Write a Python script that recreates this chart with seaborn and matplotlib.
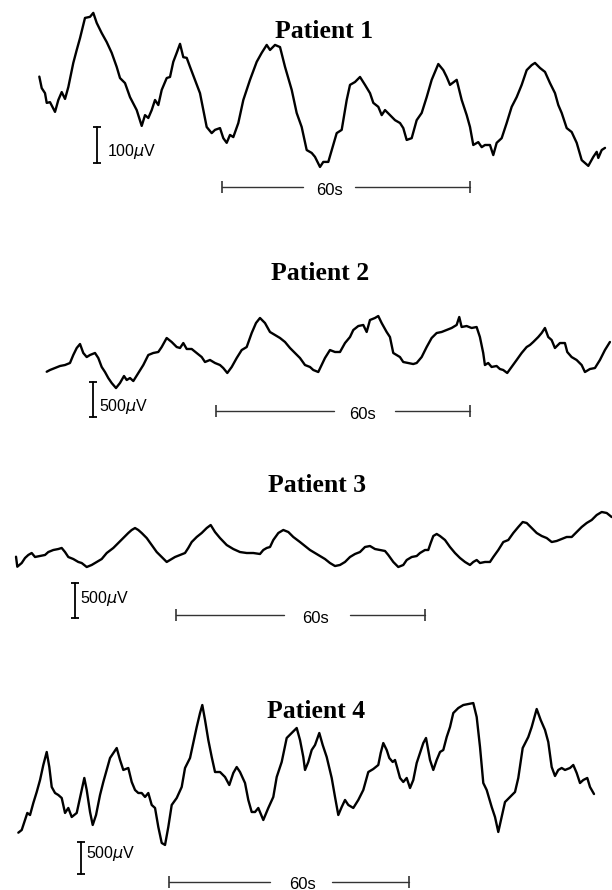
import matplotlib
matplotlib.use("Agg")
import matplotlib.pyplot as plt
import numpy as np
import pandas as pd
import seaborn as sns

# ---------------------------------------------------------------
# Slow-potential recordings: time (s) and amplitude (µV) per patient
# ---------------------------------------------------------------
t1 = [0, 0.58, 1.38, 1.79, 2.59, 3.80, 4.60, 5.42, 6.22, 7.02, 8.22, 9.05, 9.85, 11.05,
      12.26, 13.06, 13.89, 15.09, 16.30, 17.51, 18.72, 19.52, 20.73, 21.94, 23.56, 24.77,
      25.57, 26.37, 27.19, 27.99, 28.79, 29.61, 30.82, 31.62, 32.41, 33.24, 34.04, 34.83,
      35.66, 36.46, 37.66, 38.87, 39.67, 40.49, 41.70, 42.50, 43.71, 44.51, 45.33, 46.13,
      46.93, 48.14, 49.35, 50.97, 52.59, 53.80, 55.01, 55.81, 57.02, 58.23, 59.44, 61.06,
      62.26, 63.47, 64.68, 65.89, 66.69, 67.90, 68.70, 69.91, 71.94, 73.15, 74.36, 75.16,
      76.37, 77.58, 78.79, 80.00, 80.80, 82.01, 82.83, 83.63, 84.84, 86.05, 87.26, 88.05,
      88.87, 90.08, 91.29, 92.50, 93.71, 94.92, 96.52, 97.73, 98.55, 99.35, 100.97, 102.18,
      103.39, 104.19, 104.98, 106.19, 107.02, 107.81, 109.02, 109.82, 110.64, 111.85,
      113.06, 114.27, 115.48, 116.69, 117.90, 119.11, 119.91, 121.12, 122.33, 123.54,
      124.75, 125.55, 126.37, 127.58, 128.79, 130.00, 131.21, 132.81, 134.02, 134.84,
      135.23, 136.05, 136.85]
v1 = [65, 33, 19, -8, -6, -33, 0, 22, 3, 36, 103, 139, 172, 228, 231, 242, 214, 186, 161,
      131, 92, 61, 47, 8, -28, -72, -42, -50, -28, 0, -14, 28, 61, 64, 106, 131, 156, 119,
      117, 92, 56, 19, -28, -75, -92, -83, -78, -106, -119, -97, -103, -64, 0, 56, 106, 131,
      153, 139, 153, 147, 92, 28, -36, -75, -139, -147, -158, -186, -172, -172, -92, -83, 0,
      42, 50, 64, 42, 19, -8, -19, -42, -28, -42, -56, -64, -78, -111, -106, -56, -36, 8,
      56, 100, 83, 64, 42, 56, 0, -42, -75, -125, -117, -131, -125, -125, -153, -119, -106,
      -64, -19, 8, 42, 83, 97, 103, 89, 78, 47, 19, -14, -36, -78, -89, -119, -167, -183,
      -158, -144, -161, -139, -133]

t2 = [0, 0.78, 1.96, 3.14, 4.32, 5.50, 6.28, 7.09, 7.87, 8.64, 9.45, 10.23, 11.41, 12.19,
      12.99, 13.77, 14.55, 15.35, 16.37, 17.31, 18.26, 18.90, 19.68, 20.46, 21.64, 22.82,
      24.00, 25.18, 26.36, 27.16, 28.34, 29.52, 30.71, 31.49, 32.27, 33.07, 34.25, 35.43,
      36.61, 37.39, 38.57, 39.75, 40.93, 41.71, 42.66, 43.70, 44.88, 46.06, 47.24, 48.42,
      49.44, 50.38, 51.56, 52.74, 53.93, 55.11, 56.29, 57.47, 58.65, 59.83, 61.01, 62.19,
      62.97, 64.15, 64.95, 65.73, 66.91, 68.10, 69.28, 70.46, 71.64, 72.42, 73.60, 74.78,
      75.58, 76.36, 77.54, 78.32, 79.12, 80.30, 81.08, 81.86, 82.66, 83.44, 84.22, 85.40,
      86.58, 87.39, 88.57, 89.75, 90.93, 92.11, 93.29, 94.47, 95.65, 96.83, 97.45, 98.01,
      99.19, 100.37, 101.55, 102.33, 103.11, 103.51, 104.29, 105.09, 106.27, 107.05,
      107.83, 108.78, 109.82, 111.01, 112.19, 113.37, 114.15, 114.93, 116.11, 116.91,
      117.69, 118.47, 119.27, 120.05, 121.23, 122.41, 122.96, 123.99, 125.17, 126.36,
      127.14, 128.32, 129.50, 130.68, 131.86, 133.04]
v2 = [-239, -214, -186, -157, -143, -114, 0, 100, 157, 29, -29, 0, 29, -43, -171, -243,
      -329, -400, -472, -400, -300, -357, -329, -372, -257, -143, 0, 29, 43, 114, 243, 186,
      114, 100, 171, 86, 86, 29, -29, -100, -71, -114, -143, -186, -257, -171, -43, 71, 114,
      314, 457, 529, 457, 329, 286, 243, 186, 100, 29, -43, -143, -171, -214, -243, -143,
      -43, 71, 43, 43, 171, 257, 357, 414, 429, 329, 500, 529, 557, 457, 329, 257, 29, 0,
      -29, -100, -114, -129, -114, -29, 114, 243, 314, 329, 357, 386, 429, 543, 400, 414,
      386, 400, 257, 29, -143, -114, -171, -157, -200, -214, -257, -171, -71, 29, 114, 143,
      186, 257, 314, 386, 257, 214, 100, 171, 171, 43, -29, -71, -143, -243, -200, -186,
      -71, 71, 186]

t3 = [0, 0.31, 0.80, 1.37, 2.17, 2.96, 3.78, 4.58, 5.78, 6.99, 7.78, 8.99, 10.19, 11.01,
      11.81, 12.60, 13.81, 15.01, 15.83, 17.04, 18.24, 19.45, 20.65, 21.86, 23.45, 24.65,
      25.86, 27.06, 27.88, 28.68, 29.47, 30.29, 31.50, 32.70, 33.91, 35.11, 36.32, 37.12,
      38.32, 39.52, 40.73, 41.52, 42.34, 43.55, 44.75, 45.96, 46.92, 47.96, 49.16, 50.78,
      52.37, 53.98, 55.60, 57.19, 58.80, 59.60, 60.42, 61.22, 62.01, 63.22, 64.42, 65.63,
      66.83, 68.44, 69.65, 70.85, 72.06, 73.26, 74.47, 75.67, 76.88, 78.08, 79.29, 80.49,
      81.70, 82.90, 84.11, 85.31, 86.52, 87.72, 88.93, 89.72, 90.93, 92.13, 93.34, 94.16,
      95.36, 96.57, 97.36, 98.57, 99.36, 99.94, 100.57, 101.39, 102.18, 103.39, 104.59,
      105.80, 107.00, 108.21, 109.41, 110.21, 111.03, 111.82, 113.03, 114.23, 115.03,
      116.24, 117.44, 118.65, 119.85, 121.06, 122.12, 123.08, 124.29, 125.49, 126.70,
      127.90, 129.11, 130.31, 131.52, 132.72, 133.93, 135.13, 136.34, 137.54, 138.75,
      139.95, 141.16, 142.36, 143.57]
v3 = [-96, -239, -214, -186, -114, -71, -43, -100, -86, -71, -29, 0, 14, 29, -29, -100,
      -129, -171, -186, -243, -214, -171, -129, -43, 29, 100, 171, 243, 286, 314, 286, 243,
      171, 71, -29, -100, -171, -143, -100, -71, -43, 29, 114, 186, 243, 314, 357, 257, 171,
      71, 14, -29, -43, -43, -57, 0, 29, 43, 143, 243, 286, 257, 186, 114, 57, 0, -43, -86,
      -129, -186, -229, -214, -171, -100, -57, -29, 43, 57, 14, 0, -14, -71, -171, -243,
      -214, -143, -100, -86, -43, 0, 0, 100, 200, 229, 200, 143, 43, -43, -114, -171, -214,
      -171, -143, -186, -171, -171, -100, 0, 114, 143, 243, 329, 400, 386, 314, 243, 200,
      171, 114, 129, 157, 186, 186, 257, 329, 386, 429, 500, 543, 529, 471]

t4 = [0, 0.85, 1.68, 2.25, 2.93, 3.75, 4.60, 5.43, 6.25, 7.10, 7.75, 8.35, 9.18, 10.00,
      10.85, 11.68, 12.50, 13.35, 14.60, 15.85, 16.50, 17.10, 17.93, 18.60, 19.43, 20.43,
      21.25, 22.10, 22.93, 23.75, 24.60, 25.43, 26.25, 27.50, 28.35, 29.18, 30.00, 30.85,
      31.68, 32.50, 33.35, 34.18, 35.00, 35.85, 36.68, 37.50, 38.35, 39.60, 40.85, 41.68,
      42.93, 43.75, 44.60, 45.43, 46.00, 46.68, 47.50, 48.35, 49.18, 50.43, 51.68, 52.75,
      53.75, 54.60, 55.43, 56.68, 57.50, 58.35, 59.18, 60.00, 61.25, 62.50, 63.75, 64.60,
      65.85, 67.10, 68.35, 69.60, 70.43, 71.25, 71.68, 72.50, 73.35, 74.18, 75.25, 76.10,
      77.10, 78.35, 79.18, 80.00, 80.85, 81.68, 82.50, 83.75, 85.00, 86.25, 87.50, 88.75,
      90.00, 90.60, 91.25, 92.10, 92.75, 93.60, 94.18, 94.75, 95.43, 96.25, 97.10, 97.93,
      98.75, 99.60, 100.43, 101.25, 101.93, 102.93, 103.75, 104.60, 105.43, 106.25, 107.10,
      107.93, 108.75, 110.00, 111.25, 112.50, 113.75, 114.60, 115.43, 116.25, 117.10,
      118.35, 119.18, 120.00, 120.85, 121.68, 122.93, 124.18, 125.00, 126.10, 127.50,
      128.35, 129.60, 130.60, 131.68, 132.50, 133.35, 134.18, 135.00, 135.85, 136.68,
      137.93, 138.75, 139.60, 140.43, 141.25, 142.25, 142.93, 143.93]
v4 = [-667, -625, -469, -359, -391, -203, -31, 156, 391, 594, 359, 47, -47, -78, -125,
      -359, -281, -422, -359, 0, 188, 0, -344, -547, -391, -78, 125, 313, 500, 578, 656, 469,
      313, 344, 125, 0, -47, -47, -109, -47, -234, -281, -578, -828, -859, -578, -234, -125,
      47, 344, 500, 734, 984, 1203, 1328, 1094, 781, 516, 281, 281, 203, 78, 266, 359, 281,
      109, -156, -344, -344, -281, -469, -281, -109, 203, 438, 813, 891, 969, 781, 516, 313,
      438, 625, 703, 891, 703, 516, 188, -109, -391, -266, -156, -234, -281, -156, 0, 281,
      328, 391, 578, 734, 625, 500, 438, 469, 344, 188, 125, 188, 31, 156, 422, 578, 734,
      813, 469, 313, 469, 594, 625, 828, 984, 1203, 1281, 1328, 1344, 1359, 1141, 672, 109,
      0, -266, -422, -656, -422, -188, -109, -31, 188, 656, 828, 984, 1266, 1094, 938, 750,
      359, 219, 313, 344, 313, 344, 391, 266, 109, 156, 188, 47, -63]

titles = ["Patient 1", "Patient 2", "Patient 3", "Patient 4"]
amp_bars = [100, 500, 500, 500]          # µV calibration bar per panel
time_bar = 60                            # s
series = [(t1, v1), (t2, v2), (t3, v3), (t4, v4)]

# ---------------------------------------------------------------
# Layout per panel (figure pixels for the band, data limits, bar anchors)
# ---------------------------------------------------------------
W, H = 612, 890
layout = [
    dict(band=(0, 200), xlim=(-9.51, 138.54), ylim=(-277.8, 277.8),
         title_xy=(324, 31), amp_at=(13.89, -175), amp_label=(16.4, -142),
         time_at=(44.2, -242), gap=(19.6, 32.2), text_dx=26.0, text_y=-252),
    dict(band=(250, 450), xlim=(-11.03, 133.53), ylim=(-1357, 1500),
         title_xy=(320, 273), amp_at=(11.01, -881), amp_label=(12.3, -730),
         time_at=(40.08, -800), gap=(27.8, 42.2), text_dx=34.6, text_y=-855),
    dict(band=(450, 650), xlim=(-3.86, 143.64), ylim=(-1429, 1429),
         title_xy=(317, 485), amp_at=(14.22, -971), amp_label=(15.5, -700),
         time_at=(38.49, -929), gap=(26.1, 42.0), text_dx=33.8, text_y=-980),
    dict(band=(650, 890), xlim=(-4.58, 148.43), ylim=(-1563, 2188),
         title_xy=(316, 711), amp_at=(15.68, -1313), amp_label=(17.0, -1000),
         time_at=(37.75, -1438), gap=(25.2, 40.7), text_dx=33.2, text_y=-1470),
]

sns.set_style("white")
plt.rcParams["font.family"] = ["Liberation Sans", "DejaVu Sans"]
plt.rcParams["mathtext.fontset"] = "dejavusans"

fig = plt.figure(figsize=(W / 100, H / 100), dpi=100)
fig.patch.set_facecolor("white")

for (t, v), title, amp, lay in zip(series, titles, amp_bars, layout):
    top, bottom = lay["band"]
    ax = fig.add_axes([0, 1 - bottom / H, 1, (bottom - top) / H])
    df = pd.DataFrame({"time_s": t, "amp_uV": v})
    sns.lineplot(data=df, x="time_s", y="amp_uV", ax=ax, sort=False, estimator=None,
                 color="black", linewidth=1.7, legend=False,
                 solid_joinstyle="round", solid_capstyle="round")
    ax.set_xlim(*lay["xlim"])
    ax.set_ylim(*lay["ylim"])
    ax.set_axis_off()

    # amplitude calibration bar
    ax_x, ax_y = lay["amp_at"]
    ax.plot([ax_x, ax_x], [ax_y, ax_y + amp], color="black", lw=1.3,
            marker="_", ms=6, mew=1.3, clip_on=False)
    lx, ly = lay["amp_label"]
    ax.text(lx, ly, f"{amp}$\\mu$V", ha="left", va="center", fontsize=11.5,
            color="black")

    # time calibration bar, broken around its label
    t0, ty = lay["time_at"]
    g0, g1 = lay["gap"]
    ax.plot([t0, t0 + g0], [ty, ty], color="#333333", lw=1.0, marker="|",
            ms=9, mew=1.2, markevery=[0], clip_on=False)
    ax.plot([t0 + g1, t0 + time_bar], [ty, ty], color="#333333", lw=1.0, marker="|",
            ms=9, mew=1.2, markevery=[1], clip_on=False)
    ax.text(t0 + lay["text_dx"], lay["text_y"], f"{time_bar}s", ha="center",
            va="center", fontsize=12, color="black")

    tx, tyy = lay["title_xy"]
    fig.text(tx / W, 1 - tyy / H, title, ha="center", va="center",
             family=["Liberation Serif", "DejaVu Serif"], fontweight="bold",
             fontsize=18.5, color="black")

fig.savefig("out.png", dpi=100, facecolor="white")
